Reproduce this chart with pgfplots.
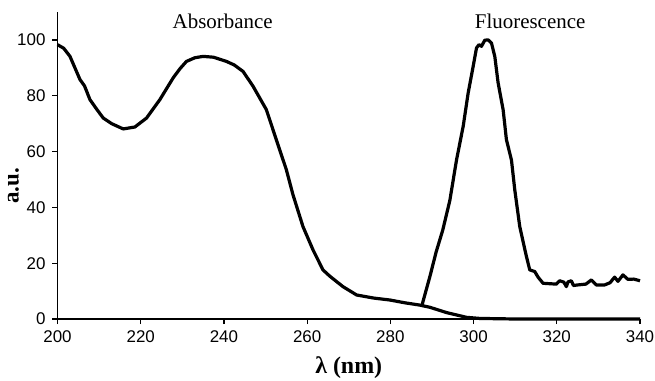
\documentclass[border=0pt]{standalone}
\usepackage{fontspec}
\setmainfont{Liberation Serif}
\setsansfont{Liberation Sans}
\usepackage{pgfplots}
\pgfplotsset{compat=1.18}
\begin{document}
\begin{tikzpicture}
\begin{axis}[
  at={(0,0)}, anchor=south west,
  scale only axis, width=582.5bp, height=307bp,
  xmin=200, xmax=340, ymin=0, ymax=110,
  axis x line=bottom, axis y line=left,
  axis line style={-, line width=1.5bp},
  xtick={200,220,...,340}, ytick={0,20,...,100},
  tick align=outside, major tick length=5bp,
  tick style={line width=1.2bp, black},
  /pgf/number format/assume math mode=true,
  ticklabel style={font=\fontsize{17}{19}\selectfont\sffamily},
  xticklabel style={yshift=-3bp},
  yticklabel style={xshift=-3.5bp},
  xlabel={\textbf{λ (nm)}},
  ylabel={\textbf{a.u.}},
  xlabel style={font=\fontsize{24}{26}\selectfont, at={(axis description cs:0.5,-0.176)}, anchor=base},
  ylabel style={font=\fontsize{23}{25}\selectfont, at={(axis description cs:-0.0755,0.433)}, anchor=center},
  clip=false,
]
\addplot[black, line width=3.2bp, line join=round] coordinates {
(200,98.3)(201.5,97)(203,94.1)(205.4,85.8)(206.5,83.5)(207.8,78.6)(209.5,75)(211,72)(213,70)(215.8,68.1)(218.6,68.8)(221.4,72)(224.6,78.6)(227.8,86.4)(229.5,89.8)(231,92.3)(233,93.6)(235,94.1)(237.5,93.8)(240.6,92.3)(242.5,91)(244.6,88.7)(247,83.4)(250.2,75)(252.6,64.2)(255,53.5)(256.6,44.5)(259,33.1)(261.4,24.8)(263.8,17.6)(265.4,15.4)(268.6,11.6)(271.9,8.6)(276,7.5)(279.9,6.8)(283.5,5.8)(287,5)(289.5,4.2)(293.5,2.3)(298.3,0.6)(301.5,0.2)(310,0)(340,0)
};
\addplot[black, line width=3.2bp, line join=round] coordinates {
(287.5,4.4)(289.5,15.2)(291,24)(292.6,31.9)(294.3,42.5)(295.9,57)(297.5,69)(298.7,81)(299.9,90.5)(300.7,97.1)(301.3,98.3)(301.9,97.7)(302.7,99.9)(303.5,100)(304.3,98.9)(305.1,94.1)(305.9,84.6)(307.1,75)(307.9,64.2)(309.1,57)(309.9,46.3)(311.1,33.1)(312.7,22.4)(313.5,17.6)(314.7,17)(315.5,15)(316.7,12.8)(319.9,12.5)(320.7,13.7)(321.7,13.2)(322.3,11.6)(322.7,13.3)(323.5,13.7)(324,12)(325,12.2)(327,12.5)(328.3,14)(329.5,12.2)(331.5,12.2)(332.8,13)(333.9,15)(334.7,13.5)(335.9,15.8)(337.1,14.2)(338.5,14.3)(340,13.7)
};
\node[anchor=base, font=\fontsize{21}{23}\selectfont] at (axis cs:239.7,104) {Absorbance};
\node[anchor=base, font=\fontsize{21}{23}\selectfont] at (axis cs:313.6,104) {Fluorescence};
\end{axis}
\pgfresetboundingbox
\path (-57.5bp,-62bp) rectangle (597.5bp,319bp);
\end{tikzpicture}
\end{document}
